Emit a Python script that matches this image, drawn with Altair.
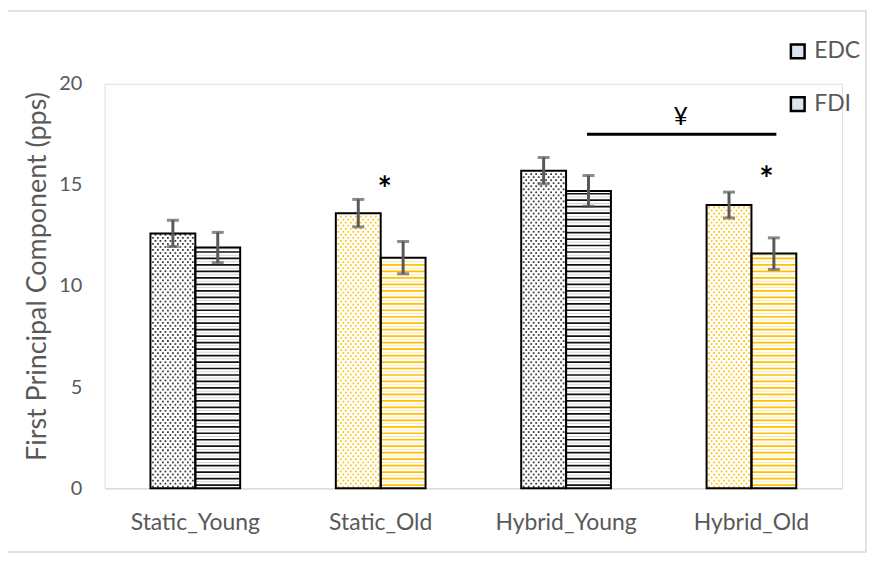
import altair as alt
import numpy as np
import pandas as pd

# ---------------- data ----------------
categories = ["Static_Young", "Static_Old", "Hybrid_Young", "Hybrid_Old"]
age_group = ["Young", "Old", "Young", "Old"]
series = ["EDC", "FDI"]
edc_mean = [12.6, 13.6, 15.7, 14.0]
edc_err = [0.65, 0.68, 0.65, 0.64]
fdi_mean = [11.9, 11.4, 14.7, 11.6]
fdi_err = [0.75, 0.80, 0.76, 0.78]

y_ticks = [0, 5, 10, 15, 20]
y_title = "First Principal Component (pps)"

star_cats = ["Static_Old", "Hybrid_Old"]
star_y = [15.1, 15.6]
bracket_from = "Hybrid_Young"
bracket_to = "Hybrid_Old"
bracket_y = 17.5
bracket_text = "¥"
bracket_text_y = 18.35

# ---------------- tables ----------------
rows = []
for c, g, m, e in zip(categories, age_group, edc_mean, edc_err):
    rows.append(dict(cat=c, series="EDC", group=g, value=m, lo=m - e, hi=m + e))
for c, g, m, e in zip(categories, age_group, fdi_mean, fdi_err):
    rows.append(dict(cat=c, series="FDI", group=g, value=m, lo=m - e, hi=m + e))
bars = pd.DataFrame(rows)

# fill patterns derived from bar heights (decoration only)
stripe_rows = []
dot_rows = []
for r in rows:
    if r["series"] == "FDI":
        for y in np.arange(0.16, r["value"] - 0.05, 0.32):
            stripe_rows.append(dict(cat=r["cat"], series="FDI", tone=r["group"] + "_main", y=y))
        for y in np.arange(0.32, r["value"] - 0.05, 0.32):
            stripe_rows.append(dict(cat=r["cat"], series="FDI", tone=r["group"] + "_light", y=y))
    else:
        for i, y in enumerate(np.arange(0.08, r["value"] - 0.06, 0.15)):
            dot_rows.append(dict(cat=r["cat"], series="EDC", tone=r["group"] + "_dot", y=y, par=i % 2))
stripes = pd.DataFrame(stripe_rows)
dots = pd.DataFrame(dot_rows)

stars = pd.DataFrame(dict(cat=star_cats, y=star_y))
bracket = pd.DataFrame([dict(a=bracket_from, b=bracket_to, y=bracket_y, ty=bracket_text_y)])

# ---------------- encodings ----------------
FONT = "Lato"
GRAY = "#595959"

x_axis = alt.Axis(title=None, labelAngle=0, ticks=False, domainColor="#d9d9d9", domainWidth=1.3,
                  labelColor=GRAY, labelFontSize=23, labelPadding=23, labelFont=FONT)
x_scale = alt.Scale(domain=categories, paddingInner=0.516, paddingOuter=0.247)
y_axis = alt.Axis(values=y_ticks, grid=False, domain=False, ticks=False, title=y_title,
                  labelColor=GRAY, labelFontSize=20, labelPadding=23, labelFont=FONT,
                  titleColor=GRAY, titleFontSize=27, titleFont=FONT, titleFontWeight="normal",
                  titleX=-67, titleY=193, titleAngle=-90, titleAlign="center", titleBaseline="middle")
y_scale = alt.Scale(domain=[0, 20], nice=False, zero=True)


def X(field="cat"):
    return alt.X(f"{field}:N", scale=x_scale, axis=x_axis, sort=categories)


def Y(field):
    return alt.Y(f"{field}:Q", scale=y_scale, axis=y_axis)


XO = alt.XOffset("series:N", sort=series, scale=alt.Scale(domain=series, paddingInner=0, paddingOuter=0))

tone_scale = alt.Scale(
    domain=["Young_main", "Old_main", "Young_light", "Old_light", "Young_dot", "Old_dot"],
    range=["#111111", "#FFC000", "#d4d4d4", "#FFE9A8", "#3c3c3c", "#FFC31A"],
)

bar_bg = alt.Chart(bars).mark_bar(fill="white", strokeWidth=0).encode(x=X(), xOffset=XO, y=Y("value"))

stripe_main = alt.Chart(stripes).transform_filter(
    "indexof(datum.tone, 'main') >= 0").mark_tick(size=44, thickness=1.7, opacity=1).encode(
    x=X(), xOffset=XO, y=Y("y"), color=alt.Color("tone:N", scale=tone_scale, legend=None)
)
stripe_light = alt.Chart(stripes).transform_filter(
    "indexof(datum.tone, 'light') >= 0").mark_tick(size=44, thickness=1.0, opacity=1).encode(
    x=X(), xOffset=XO, y=Y("y"), color=alt.Color("tone:N", scale=tone_scale, legend=None)
)

# EDC sub-band centre sits 22.5 px left of the category centre
dot_layers = []
for par, offsets in [(0, np.arange(-20, 20.1, 5)), (1, np.arange(-17.5, 17.6, 5))]:
    for dx in offsets:
        dot_layers.append(
            alt.Chart(dots).transform_filter(alt.datum.par == par)
            .mark_square(size=3.2, xOffset=float(dx) - 22.5, opacity=1, strokeWidth=0)
            .encode(x=X(), y=Y("y"), color=alt.Color("tone:N", scale=tone_scale, legend=None))
        )

outline = alt.Chart(bars).mark_bar(fill="#dce4f2", fillOpacity=0, strokeWidth=2).encode(
    x=X(), xOffset=XO, y=Y("value"),
    stroke=alt.Stroke("series:N", scale=alt.Scale(domain=series, range=["black", "black"]),
                      legend=alt.Legend(title=None, orient="none", legendX=684, legendY=-44,
                                        symbolType="square", symbolSize=190, symbolFillColor="#dce4f2",
                                        symbolOpacity=1,
                                        symbolStrokeColor="black", symbolStrokeWidth=2.5,
                                        labelFontSize=23, labelColor=GRAY, labelFont=FONT,
                                        labelOffset=5, rowPadding=28)),
)

err_rule = alt.Chart(bars).mark_rule(color=GRAY, strokeWidth=3).encode(
    x=X(), xOffset=XO, y=Y("lo"), y2="hi:Q"
)
cap_hi = alt.Chart(bars).mark_tick(color=GRAY, size=12, thickness=3).encode(x=X(), xOffset=XO, y=Y("hi"))
cap_lo = alt.Chart(bars).mark_tick(color=GRAY, size=12, thickness=3).encode(x=X(), xOffset=XO, y=Y("lo"))

star1 = alt.Chart(stars.iloc[[0]]).mark_text(text="*", fontSize=34, font=FONT, fontWeight="bold", color="black",
                                             dx=4, dy=8, baseline="middle").encode(x=X(), y=Y("y"))
star2 = alt.Chart(stars.iloc[[1]]).mark_text(text="*", fontSize=34, font=FONT, fontWeight="bold", color="black",
                                             dx=15, dy=8, baseline="middle").encode(x=X(), y=Y("y"))

bracket_line = alt.Chart(bracket).mark_rule(color="black", strokeWidth=3, xOffset=21, x2Offset=25).encode(
    x=X("a"), x2="b:N", y=Y("y"))
bracket_label = alt.Chart(bracket).mark_text(text=bracket_text, fontSize=25, font=FONT, color="black", dx=115,
                                             baseline="middle").encode(x=X("a"), y=Y("ty"))

frame = alt.Chart(alt.Data(values=[{}])).mark_rect(fill="transparent", stroke="#d9d9d9", strokeWidth=1.5).encode(
    x=alt.value(-98), x2=alt.value(764), y=alt.value(-73), y2=alt.value(470))

chart = alt.layer(
    frame, bar_bg, stripe_light, stripe_main, *dot_layers, outline, err_rule, cap_hi, cap_lo,
    star1, star2, bracket_line, bracket_label,
).properties(
    width=740, height=406,
    padding={"left": 97, "top": 75, "right": 26, "bottom": 65},
    autosize=alt.AutoSizeParams(type="none"),
).configure_view(stroke=None).configure(background="white")

chart.save("out.html", embed_options={"renderer": "svg", "actions": False})
